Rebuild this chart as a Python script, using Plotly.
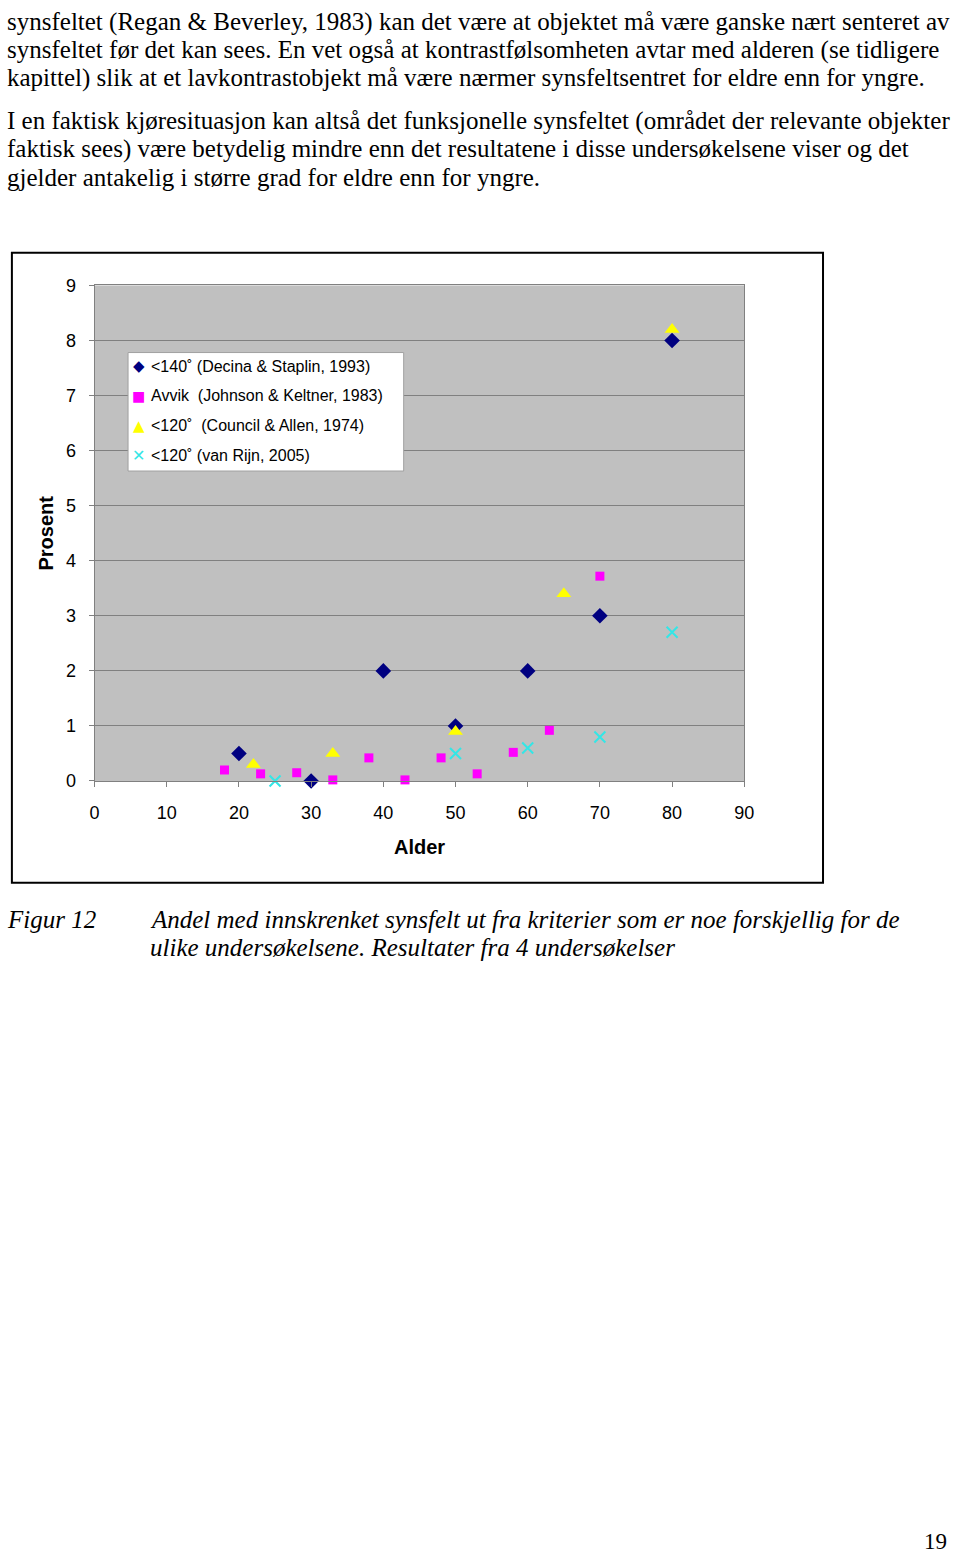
import plotly.graph_objects as go

W, H = 960, 1562

# ---------------- data ----------------
decina_age = [20, 30, 40, 50, 60, 70, 80]
decina_pct = [0.5, 0.0, 2.0, 1.0, 2.0, 3.0, 8.0]

johnson_age = [18, 23, 28, 33, 38, 43, 48, 53, 58, 63, 70]
johnson_pct = [0.2, 0.13, 0.15, 0.02, 0.42, 0.02, 0.42, 0.13, 0.52, 0.92, 3.72]

council_age = [22, 33, 50, 65, 80]
council_pct = [0.3, 0.5, 0.9, 3.4, 8.2]

vanrijn_age = [25, 50, 60, 70, 80]
vanrijn_pct = [0.0, 0.5, 0.6, 0.8, 2.7]

series_names = [
    "<140˚ (Decina & Staplin, 1993)",
    "Avvik\u00a0 (Johnson & Keltner, 1983)",
    "<120˚\u00a0 (Council & Allen, 1974)",
    "<120˚ (van Rijn, 2005)",
]
x_ticks = [0, 10, 20, 30, 40, 50, 60, 70, 80, 90]
y_ticks = [0, 1, 2, 3, 4, 5, 6, 7, 8, 9]

para_lines = [
    "synsfeltet (Regan & Beverley, 1983) kan det være at objektet må være ganske nært senteret av",
    "synsfeltet før det kan sees. En vet også at kontrastfølsomheten avtar med alderen (se tidligere",
    "kapittel) slik at et lavkontrastobjekt må være nærmer synsfeltsentret for eldre enn for yngre.",
    "I en faktisk kjøresituasjon kan altså det funksjonelle synsfeltet (området der relevante objekter",
    "faktisk sees) være betydelig mindre enn det resultatene i disse undersøkelsene viser og det",
    "gjelder antakelig i større grad for eldre enn for yngre.",
]
caption_label = "Figur 12"
caption_lines = [
    "Andel med innskrenket synsfelt ut fra kriterier som er noe forskjellig for de",
    "ulike undersøkelsene. Resultater fra 4 undersøkelser",
]
page_number = "19"

# ---------------- helpers ----------------
def px(x):
    return x / W

def py(y):
    return 1 - y / H

colors = ["#000080", "#FF00FF", "#FFFF00", "#33E6E6"]

fig = go.Figure()
fig.add_trace(go.Scatter(x=decina_age, y=decina_pct, mode="markers", name=series_names[0],
                         marker=dict(symbol="diamond", size=12, color=colors[0]), cliponaxis=False))
fig.add_trace(go.Scatter(x=johnson_age, y=johnson_pct, mode="markers", name=series_names[1],
                         marker=dict(symbol="square", size=9, color=colors[1]), cliponaxis=False))
fig.add_trace(go.Scatter(x=council_age, y=council_pct, mode="markers", name=series_names[2],
                         marker=dict(symbol="triangle-up", size=13, color=colors[2]), cliponaxis=False))
fig.add_trace(go.Scatter(x=vanrijn_age, y=vanrijn_pct, mode="markers", name=series_names[3],
                         marker=dict(symbol="x-thin-open", size=11, color=colors[3],
                                     line=dict(width=2, color=colors[3])), cliponaxis=False))

PL, PR, PT, PB = 91, 751, 279, 781

fig.update_layout(
    width=W, height=H,
    margin=dict(l=0, r=0, t=0, b=0),
    paper_bgcolor="white",
    plot_bgcolor="#C0C0C0",
    showlegend=False,
    xaxis=dict(domain=[px(PL), px(PR)], range=[0, 90], tickvals=x_ticks,
               showgrid=False, zeroline=False, showline=True, linecolor="#808080",
               linewidth=1, mirror=True, ticks="outside", ticklen=5, tickcolor="#808080",
               tickfont=dict(family="Liberation Sans, Arial", size=18, color="black"),
               ticklabelstandoff=10),
    yaxis=dict(domain=[py(PB), py(PT)], range=[0, 9], tickvals=y_ticks,
               showgrid=True, gridcolor="#808080", gridwidth=1, zeroline=False,
               showline=True, linecolor="#808080", linewidth=1, mirror=True,
               ticks="outside", ticklen=5, tickcolor="#808080",
               tickfont=dict(family="Liberation Sans, Arial", size=18, color="black"),
               ticklabelstandoff=9),
)

shapes = []
# outer chart frame
shapes.append(dict(type="rect", xref="paper", yref="paper",
                   x0=px(7), x1=px(831), y0=py(884), y1=py(246),
                   line=dict(color="black", width=2), fillcolor="rgba(0,0,0,0)"))
# legend box
LX0, LX1, LY0, LY1 = 125, 405, 347, 467
shapes.append(dict(type="rect", xref="paper", yref="paper",
                   x0=px(LX0), x1=px(LX1), y0=py(LY1), y1=py(LY0),
                   line=dict(color="#A0A0A0", width=1), fillcolor="white", layer="above"))
fig.update_layout(shapes=shapes)

ann = []
serif = "Liberation Serif, Times New Roman"
sans = "Liberation Sans, Arial"
para_y = [12, 41, 69, 112, 141, 170]
for t, y in zip(para_lines, para_y):
    ann.append(dict(text=t, x=px(0), y=py(y), xref="paper", yref="paper",
                    xanchor="left", yanchor="middle", showarrow=False,
                    font=dict(family=serif, size=25, color="black")))

ann.append(dict(text="<i>" + caption_label + "</i>", x=px(0), y=py(921), xref="paper", yref="paper",
                xanchor="left", yanchor="middle", showarrow=False,
                font=dict(family=serif, size=25, color="black")))
for t, y in zip(caption_lines, [921, 950]):
    ann.append(dict(text="<i>" + t + "</i>", x=px(145), y=py(y), xref="paper", yref="paper",
                    xanchor="left", yanchor="middle", showarrow=False,
                    font=dict(family=serif, size=25, color="black")))
ann.append(dict(text=page_number, x=px(959), y=py(1551), xref="paper", yref="paper",
                xanchor="right", yanchor="middle", showarrow=False,
                font=dict(family=serif, size=23, color="black")))

# axis titles
ann.append(dict(text="<b>Alder</b>", x=px((PL + PR) / 2), y=py(848), xref="paper", yref="paper",
                xanchor="center", yanchor="middle", showarrow=False,
                font=dict(family=sans, size=20, color="black")))
ann.append(dict(text="<b>Prosent</b>", x=px(42), y=py(530), xref="paper", yref="paper",
                xanchor="center", yanchor="middle", showarrow=False, textangle=-90,
                font=dict(family=sans, size=20, color="black")))

# legend entries (glyph + label)
glyphs = ["◆", "■", "▲", "✕"]
glyph_sizes = [15, 14, 15, 16]
row_y = [361, 391, 421, 451]
for g, gs, c, name, y in zip(glyphs, glyph_sizes, colors, series_names, row_y):
    ann.append(dict(text=g, x=px(136), y=py(y), xref="paper", yref="paper",
                    xanchor="center", yanchor="middle", showarrow=False,
                    font=dict(family="DejaVu Sans", size=gs, color=c)))
    ann.append(dict(text=name, x=px(146), y=py(y), xref="paper", yref="paper",
                    xanchor="left", yanchor="middle", showarrow=False,
                    font=dict(family=sans, size=16, color="black")))

fig.update_layout(annotations=ann)

fig.write_html("out.html")
